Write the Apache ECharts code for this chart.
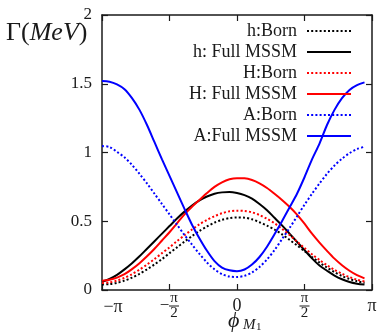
<!DOCTYPE html>
<html>
<head>
<meta charset="utf-8">
<script src="https://cdn.jsdelivr.net/npm/echarts@6/dist/echarts.min.js"></script>
<style>
  html, body { margin: 0; padding: 0; background: #fff; }
  #chart { width: 380px; height: 333px; }
</style>
</head>
<body>
<div id="chart"></div>
<script>
// phase of M1 in degrees, -180 .. 170 step 10
const phiDeg = [-180, -170, -160, -150, -140, -130, -120, -110, -100, -90, -80, -70,
  -60, -50, -40, -30, -20, -10, 0, 10, 20, 30, 40, 50, 60, 70, 80, 90, 100, 110,
  120, 130, 140, 150, 160, 170];

const hBorn = [0.04, 0.043, 0.052, 0.068, 0.09, 0.118, 0.15, 0.186, 0.225, 0.268, 0.31, 0.352,
  0.392, 0.43, 0.462, 0.49, 0.51, 0.523, 0.528, 0.526, 0.514, 0.493, 0.468, 0.44, 0.405, 0.365,
  0.325, 0.283, 0.24, 0.2, 0.163, 0.13, 0.102, 0.08, 0.064, 0.053];
const hFull = [0.06, 0.08, 0.11, 0.15, 0.195, 0.245, 0.30, 0.355, 0.41, 0.465, 0.52, 0.57,
  0.615, 0.652, 0.68, 0.70, 0.71, 0.712, 0.705, 0.69, 0.665, 0.625, 0.58, 0.525, 0.47, 0.41,
  0.35, 0.29, 0.23, 0.178, 0.14, 0.105, 0.078, 0.058, 0.046, 0.04];
const HBorn = [0.05, 0.055, 0.068, 0.088, 0.115, 0.148, 0.185, 0.225, 0.268, 0.31, 0.355, 0.398,
  0.44, 0.478, 0.51, 0.537, 0.558, 0.572, 0.577, 0.575, 0.565, 0.545, 0.518, 0.485, 0.445, 0.40,
  0.352, 0.305, 0.26, 0.218, 0.18, 0.146, 0.118, 0.094, 0.075, 0.062];
const HFull = [0.068, 0.075, 0.09, 0.115, 0.152, 0.195, 0.245, 0.30, 0.36, 0.42, 0.485, 0.55,
  0.605, 0.655, 0.705, 0.75, 0.783, 0.805, 0.813, 0.812, 0.80, 0.776, 0.742, 0.70, 0.655, 0.605,
  0.548, 0.482, 0.41, 0.345, 0.285, 0.228, 0.18, 0.14, 0.108, 0.085];
const ABorn = [1.047, 1.04, 1.005, 0.965, 0.91, 0.845, 0.775, 0.70, 0.625, 0.55, 0.475, 0.40,
  0.33, 0.262, 0.2, 0.15, 0.115, 0.098, 0.095, 0.103, 0.127, 0.168, 0.222, 0.29, 0.37, 0.45,
  0.535, 0.62, 0.70, 0.775, 0.845, 0.905, 0.955, 0.995, 1.025, 1.042];
const AFull = [1.52, 1.515, 1.495, 1.46, 1.395, 1.31, 1.2, 1.075, 0.95, 0.83, 0.71, 0.59,
  0.475, 0.375, 0.285, 0.21, 0.163, 0.143, 0.137, 0.149, 0.185, 0.24, 0.315, 0.405, 0.5, 0.6,
  0.7, 0.82, 0.95, 1.065, 1.2, 1.31, 1.395, 1.455, 1.49, 1.51];

const seriesNames = ['h:Born', 'h: Full MSSM', 'H:Born', 'H: Full MSSM', 'A:Born', 'A:Full MSSM'];
const xTickVals = [-180, -90, 0, 90, 180];
const xTickLabels = ['−π', '−π/2', '0', 'π/2', 'π'];

const serif = 'Liberation Serif';
const ink = '#1a1a1a';
const chart = echarts.init(document.getElementById('chart'));

const pair = (ys) => phiDeg.map((x, i) => [x, ys[i]]);

function makeLine(name, ys, color, dotted) {
  return {
    name: name,
    type: 'line',
    data: pair(ys),
    symbol: 'none',
    smooth: 0.3,
    silent: true,
    itemStyle: { color: color },
    lineStyle: { color: color, width: 2, type: dotted ? [2, 2.2] : 'solid' }
  };
}

// fraction labels like π/2 are stacked with a bar
function tickText(v) {
  const lbl = xTickLabels[xTickVals.indexOf(v)];
  if (lbl === undefined) return '';
  if (lbl.indexOf('/') < 0) return v === -180 ? '{a|' + lbl + '}' : '{z|' + lbl + '}';
  const neg = lbl[0] === '−';
  const parts = (neg ? lbl.slice(1) : lbl).split('/');
  if (neg) return '{s| }{n|' + parts[0] + '}\n{m|−}{b| }\n{s| }{d|' + parts[1] + '}';
  return '{n|' + parts[0] + '}\n{b| }\n{d|' + parts[1] + '}';
}

const frameLine = { show: true, onZero: false, lineStyle: { color: ink, width: 1.5 } };
const inTick = { show: true, inside: true, length: 6, lineStyle: { color: ink, width: 1.2 } };

const option = {
  animation: false,
  backgroundColor: '#fff',
  grid: { left: 102, right: 8, top: 15, bottom: 43 },
  legend: {
    orient: 'vertical',
    right: 28,
    top: 22,
    padding: 0,
    align: 'right',
    itemWidth: 44,
    itemHeight: 14,
    itemGap: 3,
    data: seriesNames,
    itemStyle: { opacity: 0 },
    textStyle: { fontFamily: serif, fontSize: 18, color: ink, padding: [0, 5, 0, 0] }
  },
  xAxis: [
    {
      type: 'value',
      min: -180,
      max: 180,
      interval: 90,
      axisLine: frameLine,
      axisTick: inTick,
      splitLine: { show: false },
      axisLabel: {
        margin: 16,
        verticalAlign: 'middle',
        showMinLabel: true,
        showMaxLabel: true,
        color: ink,
        formatter: tickText,
        rich: {
          a: { fontFamily: serif, fontSize: 18, color: ink, padding: [3, 0, 0, 22] },
          z: { fontFamily: serif, fontSize: 18, color: ink },
          n: { fontFamily: serif, fontSize: 15, color: ink, width: 10, align: 'center', lineHeight: 12 },
          d: { fontFamily: serif, fontSize: 15, color: ink, width: 10, align: 'center', lineHeight: 12 },
          b: { width: 10, height: 1, lineHeight: 3, backgroundColor: ink, fontSize: 1 },
          s: { width: 9, fontSize: 15, lineHeight: 12 },
          m: { fontFamily: serif, fontSize: 17, color: ink, width: 9, align: 'center', lineHeight: 3 }
        }
      }
    },
    {
      type: 'value',
      position: 'top',
      min: -180,
      max: 180,
      interval: 90,
      axisLine: frameLine,
      axisTick: inTick,
      axisLabel: { show: false },
      splitLine: { show: false }
    }
  ],
  yAxis: [
    {
      type: 'value',
      min: 0,
      max: 2,
      interval: 0.5,
      axisLine: frameLine,
      axisTick: inTick,
      splitLine: { show: false },
      axisLabel: { margin: 10, fontFamily: serif, fontSize: 17, color: ink }
    },
    {
      type: 'value',
      position: 'right',
      min: 0,
      max: 2,
      interval: 0.5,
      axisLine: frameLine,
      axisTick: inTick,
      axisLabel: { show: false },
      splitLine: { show: false }
    }
  ],
  graphic: [
    {
      type: 'text',
      left: 6,
      top: 20,
      style: {
        text: '{r|Γ(}{i|MeV}{r|)}',
        rich: {
          r: { fontFamily: serif, fontSize: 26, fill: ink },
          i: { fontFamily: serif, fontSize: 26, fontStyle: 'italic', fill: ink }
        }
      }
    },
    {
      type: 'group',
      left: 228,
      top: 310,
      children: [
        { type: 'text', x: 0, y: 0, style: { text: 'ϕ', fontFamily: serif, fontSize: 22, fontStyle: 'italic', fill: ink } },
        { type: 'text', x: 15, y: 8, style: { text: 'M', fontFamily: serif, fontSize: 15, fontStyle: 'italic', fill: ink } },
        { type: 'text', x: 28, y: 12, style: { text: '1', fontFamily: serif, fontSize: 11, fill: ink } }
      ]
    }
  ],
  series: [
    makeLine(seriesNames[0], hBorn, '#000000', true),
    makeLine(seriesNames[1], hFull, '#000000', false),
    makeLine(seriesNames[2], HBorn, '#ff0000', true),
    makeLine(seriesNames[3], HFull, '#ff0000', false),
    makeLine(seriesNames[4], ABorn, '#0000ff', true),
    makeLine(seriesNames[5], AFull, '#0000ff', false)
  ]
};

chart.setOption(option);
</script>
</body>
</html>
